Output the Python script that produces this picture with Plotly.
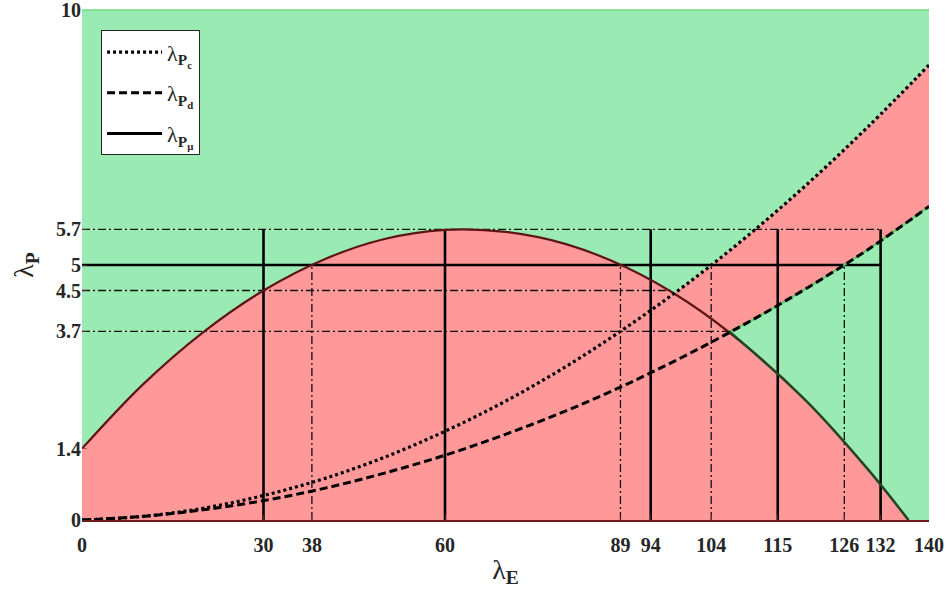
import plotly.graph_objects as go

# Sample points along the λ_E axis
LAMBDA_E = [0, 10, 20, 30, 40, 50, 60, 70, 80, 90, 100, 110, 120, 130, 140]
# λ_Pc (dotted) and λ_Pd (dashed) curves
LAMBDA_PC = [0, 0.07, 0.23, 0.48, 0.81, 1.23, 1.74, 2.33, 3.01, 3.78, 4.63, 5.57, 6.60, 7.72, 8.92]
LAMBDA_PD = [0, 0.07, 0.20, 0.38, 0.62, 0.92, 1.27, 1.68, 2.14, 2.66, 3.24, 3.87, 4.56, 5.31, 6.15]
# λ_Pμ (solid) curve, ending where it reaches zero
MU_E = [0, 10, 20, 30, 40, 50, 60, 70, 80, 90, 100, 110, 120, 130, 136.6]
LAMBDA_PMU = [1.40, 2.65, 3.68, 4.50, 5.11, 5.51, 5.69, 5.65, 5.41, 4.95, 4.28, 3.39, 2.30, 0.98, 0]
# where λ_Pμ meets λ_Pd
CROSS_MU_D = (107, 3.7)

# reference lines
V_SOLID = [30, 60, 94, 115, 132]
V_SOLID_TOP = 5.7
V_DASHDOT = [38, 89, 104, 126]
V_DASHDOT_TOP = 5
H_SOLID = {5: 132}
H_DASHDOT = {5.7: 132, 4.5: 97.5, 3.7: 107}

X_TICKS = [0, 30, 38, 60, 89, 94, 104, 115, 126, 132, 140]
Y_TICKS = [0, 1.4, 3.7, 4.5, 5, 5.7, 10]

GREEN = "#99EBB3"
RED = "#FF9999"
FONT = "Liberation Serif"
DASHDOT = "8px,3px,2px,3px"

fig = go.Figure()

# red region below λ_Pμ
fig.add_trace(go.Scatter(x=MU_E, y=LAMBDA_PMU, mode="lines", fill="tozeroy",
                         fillcolor=RED, line=dict(width=0, shape="spline"),
                         showlegend=False, hoverinfo="skip"))
# red band between λ_Pd and λ_Pc
fig.add_trace(go.Scatter(x=LAMBDA_E, y=LAMBDA_PD, mode="lines",
                         line=dict(width=0, shape="spline"),
                         showlegend=False, hoverinfo="skip"))
fig.add_trace(go.Scatter(x=LAMBDA_E, y=LAMBDA_PC, mode="lines", fill="tonexty",
                         fillcolor=RED, line=dict(width=0, shape="spline"),
                         showlegend=False, hoverinfo="skip"))


def seg_lines(pairs):
    xs, ys = [], []
    for (x0, y0), (x1, y1) in pairs:
        xs += [x0, x1, None]
        ys += [y0, y1, None]
    return xs, ys


# guide lines
vx, vy = seg_lines([((v, 0), (v, V_DASHDOT_TOP)) for v in V_DASHDOT])
hx, hy = seg_lines([((0, h), (e, h)) for h, e in H_DASHDOT.items()])
fig.add_trace(go.Scatter(x=vx + hx, y=vy + hy, mode="lines",
                         line=dict(color="#111111", width=1.3, dash=DASHDOT),
                         showlegend=False, hoverinfo="skip"))
vx, vy = seg_lines([((v, 0), (v, V_SOLID_TOP)) for v in V_SOLID])
hx, hy = seg_lines([((0, h), (e, h)) for h, e in H_SOLID.items()])
fig.add_trace(go.Scatter(x=vx + hx, y=vy + hy, mode="lines",
                         line=dict(color="black", width=2.6),
                         showlegend=False, hoverinfo="skip"))

# edge of the green wedge under λ_Pd
cx, cy = CROSS_MU_D
dx = [cx] + [x for x in LAMBDA_E if x > cx]
dy = [cy] + [y for x, y in zip(LAMBDA_E, LAMBDA_PD) if x > cx]
fig.add_trace(go.Scatter(x=dx, y=dy, mode="lines",
                         line=dict(color="#5CC46A", width=2, shape="spline"),
                         showlegend=False, hoverinfo="skip"))

# λ_Pμ curve
fig.add_trace(go.Scatter(x=MU_E, y=LAMBDA_PMU, mode="lines",
                         line=dict(color="#5E1515", width=2.2, shape="spline"),
                         showlegend=False, hoverinfo="skip"))
mx = [cx] + [x for x in MU_E if x > cx]
my = [cy] + [y for x, y in zip(MU_E, LAMBDA_PMU) if x > cx]
fig.add_trace(go.Scatter(x=mx, y=my, mode="lines",
                         line=dict(color="#1E4A28", width=2.2, shape="spline"),
                         showlegend=False, hoverinfo="skip"))

# λ_Pc and λ_Pd curves
fig.add_trace(go.Scatter(x=LAMBDA_E, y=LAMBDA_PC, mode="lines", legendgroup="c",
                         name="λ<sub><b>P</b><sub><b>c</b></sub></sub>",
                         line=dict(color="black", width=3.2, dash="3px,3px", shape="spline")))
fig.add_trace(go.Scatter(x=LAMBDA_E, y=LAMBDA_PD, mode="lines", legendgroup="d",
                         name="λ<sub><b>P</b><sub><b>d</b></sub></sub>",
                         line=dict(color="black", width=3, dash="8px,4px", shape="spline")))
# legend key for λ_Pμ
fig.add_trace(go.Scatter(x=[None], y=[None], mode="lines", legendgroup="mu",
                         name="λ<sub><b>P</b><sub><b>μ</b></sub></sub>",
                         line=dict(color="black", width=3)))

fig.add_shape(type="line", xref="paper", yref="paper", x0=0, x1=1, y0=1, y1=1,
              line=dict(color="#6FE07F", width=1.5))

tickfont = dict(family=FONT, size=20, color="#262626", weight="bold")
fig.update_layout(
    width=946, height=594,
    margin=dict(l=82, r=17, t=10, b=74, autoexpand=False),
    paper_bgcolor="white",
    plot_bgcolor=GREEN,
    font=dict(family=FONT, color="#262626"),
    xaxis=dict(range=[0, 140], tickvals=X_TICKS, ticktext=[str(v) for v in X_TICKS],
               tickfont=tickfont, showgrid=False, zeroline=False,
               showline=True, linecolor="#6E1A1A", linewidth=2,
               ticks="inside", ticklen=5, tickcolor="rgba(150,50,50,0.6)",
               ticklabelstandoff=6, ticklabeloverflow="allow", automargin=False,
               title=dict(text="λ<sub><b>E</b></sub>", font=dict(family=FONT, size=28, color="#262626"),
                          standoff=4)),
    yaxis=dict(range=[0, 10], tickvals=Y_TICKS, ticktext=[f"{v:g}" for v in Y_TICKS],
               tickfont=tickfont, showgrid=False, zeroline=False, showline=False,
               ticks="inside", ticklen=5, tickcolor="rgba(150,50,50,0.6)",
               ticklabeloverflow="allow", automargin=False,
               title=dict(text="λ<sub><b>P</b></sub>", font=dict(family=FONT, size=28, color="#262626"),
                          standoff=14)),
    legend=dict(x=0.0225, y=0.96, xanchor="left", yanchor="top",
                bgcolor="white", bordercolor="#262626", borderwidth=1,
                font=dict(family=FONT, size=22, color="#262626"),
                itemwidth=55, tracegroupgap=9, traceorder="grouped"),
)

fig.write_html("out.html")
